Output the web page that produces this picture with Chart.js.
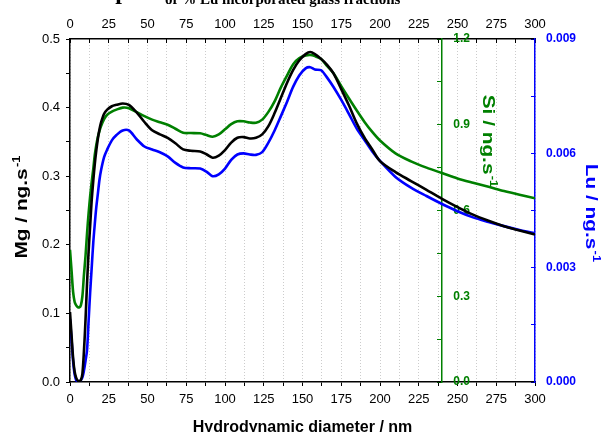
<!DOCTYPE html>
<html>
<head>
<meta charset="utf-8">
<script src="https://cdn.jsdelivr.net/npm/chart.js@4/dist/chart.umd.min.js"></script>
<style>
  html, body { margin: 0; padding: 0; background: #fff; }
  canvas { display: block; }
</style>
</head>
<body>
<canvas id="chart" width="601" height="432"></canvas>
<script>
// values (x: hydrodynamic diameter, nm)
const diameter = [0, 1, 2, 3, 4, 5, 6, 7, 8, 9, 10, 11, 12, 13, 14, 15, 16, 17, 18, 19, 20,
    22, 24, 27, 30, 34, 38, 43, 48, 53, 58, 63, 68, 73, 78, 84, 88, 92, 96, 100, 104,
    108, 112, 116, 120, 124, 128, 132, 136, 140, 144, 148, 152, 155, 158, 162, 166, 170, 175, 180, 185,
    190, 195, 200, 210, 220, 230, 240, 250, 260, 270, 280, 290, 300];

const mg = [0.102, 0.068, 0.035, 0.015, 0.006, 0.002, 0.001, 0.003, 0.012, 0.045, 0.090, 0.144, 0.190, 0.228, 0.265, 0.293, 0.318, 0.338, 0.355, 0.368, 0.378,
    0.391, 0.397, 0.402, 0.404, 0.406, 0.404, 0.393, 0.379, 0.367, 0.361, 0.356, 0.348, 0.339, 0.337, 0.336, 0.332, 0.327, 0.330, 0.338, 0.349,
    0.356, 0.357, 0.355, 0.356, 0.361, 0.373, 0.392, 0.414, 0.436, 0.455, 0.469, 0.478, 0.481, 0.478, 0.471, 0.462, 0.450, 0.427, 0.403, 0.377,
    0.356, 0.339, 0.322, 0.306, 0.293, 0.280, 0.267, 0.255, 0.244, 0.235, 0.227, 0.221, 0.215];

const si = [0.462, 0.390, 0.315, 0.280, 0.268, 0.262, 0.261, 0.268, 0.300, 0.375, 0.440, 0.520, 0.590, 0.650, 0.700, 0.745, 0.795, 0.830, 0.858, 0.878, 0.895,
    0.920, 0.935, 0.946, 0.953, 0.960, 0.958, 0.944, 0.930, 0.918, 0.909, 0.900, 0.886, 0.872, 0.871, 0.870, 0.864, 0.858, 0.866, 0.884, 0.902,
    0.912, 0.912, 0.908, 0.907, 0.918, 0.945, 0.982, 1.030, 1.072, 1.112, 1.133, 1.142, 1.144, 1.140, 1.130, 1.105, 1.080, 1.035, 0.992, 0.950,
    0.910, 0.875, 0.845, 0.800, 0.772, 0.750, 0.731, 0.712, 0.697, 0.683, 0.668, 0.655, 0.643];

const lu = [0.00165, 0.00110, 0.00055, 0.00020, 0.00005, 0.00002, 0.00002, 0.00005, 0.00012, 0.00030, 0.00055, 0.00084, 0.00160, 0.00235, 0.00300, 0.00365, 0.00415, 0.00460, 0.00495, 0.00530, 0.00555,
    0.00590, 0.00610, 0.00634, 0.00648, 0.00660, 0.00660, 0.00637, 0.00618, 0.00610, 0.00603, 0.00592, 0.00575, 0.00563, 0.00561, 0.00560, 0.00552, 0.00540, 0.00545, 0.00560, 0.00583,
    0.00597, 0.00600, 0.00597, 0.00596, 0.00603, 0.00628, 0.00660, 0.00697, 0.00735, 0.00775, 0.00805, 0.00823, 0.00826, 0.00820, 0.00818, 0.00798, 0.00774, 0.00740, 0.00703, 0.00665,
    0.00635, 0.00605, 0.00580, 0.00538, 0.00510, 0.00488, 0.00467, 0.00448, 0.00432, 0.00420, 0.00409, 0.00399, 0.00390];

const GREEN = '#008000';
const BLUE = '#0000ff';
const SANS = "'Liberation Sans', Arial, sans-serif";
const SERIF = "'Liberation Serif', 'Times New Roman', serif";

Chart.defaults.font.family = SANS;
Chart.defaults.color = '#000';

function toPoints(ys) {
    return diameter.map((d, i) => ({x: d, y: ys[i]}));
}

// only every other tick gets a label (minor ticks in between)
function labelEvery(step, digits) {
    return function (v) {
        let r = v / step;
        if (Math.abs(r - Math.round(r)) < 1e-6) return v.toFixed(digits);
        return '';
    };
}

// axis titles with a raised "-1", a bit stretched along the text like the original
function drawTitle(ctx, cx, cy, angle, main, sup, color) {
    ctx.save();
    ctx.translate(cx, cy);
    ctx.rotate(angle);
    ctx.scale(1.3, 1);
    ctx.fillStyle = color;
    ctx.textBaseline = 'middle';
    ctx.textAlign = 'left';
    ctx.font = 'bold 16px ' + SANS;
    let w1 = ctx.measureText(main).width;
    ctx.font = 'bold 10px ' + SANS;
    let w2 = ctx.measureText(sup).width;
    let x0 = -(w1 + w2 + 1) / 2;
    ctx.font = 'bold 16px ' + SANS;
    ctx.fillText(main, x0, 0);
    ctx.font = 'bold 10px ' + SANS;
    ctx.fillText(sup, x0 + w1 + 1, -6);
    ctx.restore();
}

const titlesPlugin = {
    id: 'titles',
    afterDraw(chart) {
        const ctx = chart.ctx;
        drawTitle(ctx, 23, 207, -Math.PI / 2, 'Mg / ng.s', '-1', '#000');
        drawTitle(ctx, 487, 141, Math.PI / 2, 'Si / ng.s', '-1', GREEN);
        drawTitle(ctx, 590, 213, Math.PI / 2, 'Lu / ng.s', '-1', BLUE);

        // chart title, mostly cut off by the top edge
        ctx.save();
        ctx.fillStyle = '#000';
        ctx.textAlign = 'left';
        ctx.textBaseline = 'alphabetic';
        ctx.font = 'bold 24px ' + SERIF;
        ctx.fillText('Comparison', 66, -1);
        ctx.font = 'bold 15px ' + SERIF;
        ctx.fillText('of % Lu incorporated glass fractions', 165, 4);
        ctx.restore();
    }
};

const bgPlugin = {
    id: 'bg',
    beforeDraw(chart) {
        const ctx = chart.ctx;
        ctx.save();
        ctx.fillStyle = '#fff';
        ctx.fillRect(0, 0, chart.width, chart.height);
        ctx.restore();
    }
};

const xTickFont = {family: SANS, size: 13};

new Chart(document.getElementById('chart'), {
    type: 'line',
    data: {
        datasets: [
            {
                label: 'Mg',
                data: toPoints(mg),
                yAxisID: 'y',
                borderColor: '#000',
                backgroundColor: '#000',
                borderWidth: 2.6,
                pointRadius: 0,
                tension: 0.3,
            },
            {
                label: 'Si',
                data: toPoints(si),
                yAxisID: 'ySi',
                borderColor: GREEN,
                backgroundColor: GREEN,
                borderWidth: 2.6,
                pointRadius: 0,
                tension: 0.3,
            },
            {
                label: 'Lu',
                data: toPoints(lu),
                yAxisID: 'yLu',
                borderColor: BLUE,
                backgroundColor: BLUE,
                borderWidth: 2.6,
                pointRadius: 0,
                tension: 0.3,
            },
        ]
    },
    options: {
        responsive: false,
        animation: false,
        devicePixelRatio: 1,
        layout: {padding: 0},
        plugins: {
            legend: {display: false},
            tooltip: {enabled: false},
        },
        scales: {
            x: {
                type: 'linear',
                position: 'bottom',
                min: 0,
                max: 300,
                ticks: {stepSize: 12.5, autoSkip: false, maxRotation: 0, padding: 6, font: xTickFont, color: '#000',
                    callback: labelEvery(25, 0)},
                grid: {color: '#cccccc', lineWidth: 1, tickLength: 4, tickColor: '#000', tickWidth: 1},
                border: {color: '#000', width: 1.5, dash: [1, 2]},
                title: {display: true, text: 'Hydrodynamic diameter / nm', color: '#000',
                    font: {family: SANS, size: 16, weight: 'bold'}, padding: {top: 0, bottom: -5}},
                afterFit: s => { s.height = 50; },
            },
            x2: {
                type: 'linear',
                axis: 'x',
                position: 'top',
                min: 0,
                max: 300,
                ticks: {stepSize: 12.5, autoSkip: false, maxRotation: 0, padding: 10.5, font: xTickFont, color: '#000',
                    callback: labelEvery(25, 0)},
                grid: {drawOnChartArea: false, tickLength: -4, tickColor: '#000', tickWidth: 1},
                border: {color: '#000', width: 1.5},
                afterFit: s => { s.height = 39; },
            },
            y: {
                type: 'linear',
                position: 'left',
                min: 0,
                max: 0.5,
                ticks: {stepSize: 0.05, autoSkip: false, padding: 6, font: {family: SANS, size: 13}, color: '#000',
                    callback: labelEvery(0.1, 1)},
                grid: {drawOnChartArea: false, tickLength: 4, tickColor: '#000', tickWidth: 1},
                border: {color: '#000', width: 1.5},
                afterFit: s => { s.width = 70; },
            },
            // Si axis line and tick marks sit at x = 240
            ySi: {
                type: 'linear',
                axis: 'y',
                position: {x: 240},
                min: 0,
                max: 1.2,
                ticks: {stepSize: 0.15, autoSkip: false, display: false},
                grid: {drawOnChartArea: false, tickLength: 4, tickColor: GREEN, tickWidth: 1},
                border: {color: GREEN, width: 1.5},
                afterFit: s => { s.width = 0; },
            },
            // Si tick labels, right-aligned to the right of that axis
            ySiLabels: {
                type: 'linear',
                axis: 'y',
                position: {x: 258},
                min: 0,
                max: 1.2,
                ticks: {stepSize: 0.15, autoSkip: false, color: GREEN,
                    font: {family: SANS, size: 12, weight: 'bold'}, callback: labelEvery(0.3, 1)},
                grid: {display: false},
                border: {display: false},
                afterFit: s => { s.width = 0; },
            },
            yLu: {
                type: 'linear',
                axis: 'y',
                position: 'right',
                min: 0,
                max: 0.009,
                ticks: {stepSize: 0.0015, autoSkip: false, padding: 15, color: BLUE,
                    font: {family: SANS, size: 12, weight: 'bold'}, callback: labelEvery(0.003, 3)},
                grid: {drawOnChartArea: false, tickLength: -4, tickColor: BLUE, tickWidth: 1},
                border: {color: BLUE, width: 1.5},
                afterFit: s => { s.width = 66; },
            },
        }
    },
    plugins: [bgPlugin, titlesPlugin]
});
</script>
</body>
</html>
